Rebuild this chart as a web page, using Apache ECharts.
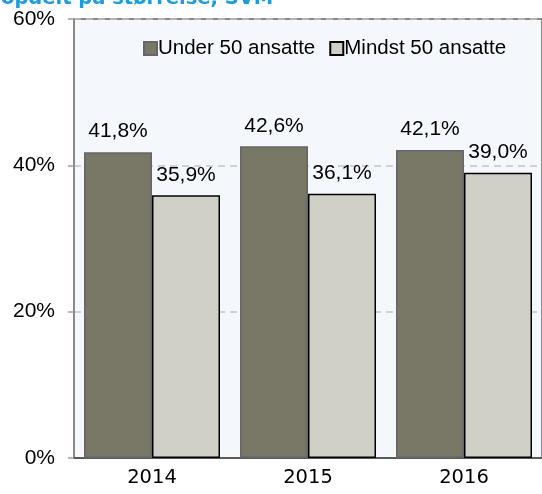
<!DOCTYPE html>
<html>
<head>
<meta charset="utf-8">
<script src="https://cdn.jsdelivr.net/npm/echarts@6/dist/echarts.min.js"></script>
<style>
	html,body{margin:0;padding:0;background:#fff;}
	#main{width:542px;height:494px;}
</style>
</head>
<body>
<div id="main"></div>
<script type="text/javascript">
	// data
	var years = ["2014","2015","2016"];
	var under50 = [41.8,42.6,42.1];
	var mindst50 = [35.9,36.1,39.0];
	var seriesNames = ["Under 50 ansatte","Mindst 50 ansatte"];

	function fmt(v){
		return v.toFixed(1).replace(".",",")+"%";
	}

	var myChart = echarts.init(document.getElementById("main"));

	var barLabel = {
		show:true,
		position:'top',
		distance:10,
		fontFamily:'Liberation Sans',
		fontSize:21,
		color:'#000',
		formatter:function(p){return fmt(p.value);}
	};

	var option = {
		animation:false,
		graphic:[
			{
				type:'text',
				x:1,
				y:-11,
				style:{
					text:"opdelt på størrelse, SVM",
					fill:"#1a9be2",
					font:"bold 19.5px 'DejaVu Sans'"
				}
			}
		],
		legend:{
			top:33,
			left:138,
			itemWidth:13,
			itemHeight:13,
			itemGap:14,
			icon:'rect',
			textStyle:{fontFamily:'Liberation Sans',fontSize:20.5,color:'#000',padding:[0,0,0,-4]},
			data:seriesNames
		},
		grid:{
			left:74,
			right:-2,
			top:19,
			bottom:36,
			show:true,
			backgroundColor:'#f4f8fc',
			borderColor:'#8a8a8a',
			borderWidth:2
		},
		xAxis:[
			{
				type:'category',
				data:years,
				axisLine:{lineStyle:{color:'#5a5a5a',width:2}},
				axisTick:{length:6,lineStyle:{color:'#7a7a7a',width:1.5}},
				axisLabel:{fontFamily:'DejaVu Sans',fontSize:19.5,color:'#000',margin:10}
			},
			{
				// small ticks under the middle of each year
				type:'category',
				data:years,
				position:'bottom',
				axisLine:{show:false},
				axisTick:{alignWithLabel:true,length:5,lineStyle:{color:'#7a7a7a',width:1.5}},
				axisLabel:{show:false}
			}
		],
		yAxis:{
			type:'value',
			min:0,
			max:60,
			interval:20,
			axisLine:{show:true,lineStyle:{color:'#8a8a8a',width:2}},
			axisTick:{show:true,length:6,lineStyle:{color:'#a0a0a0',width:1.5}},
			axisLabel:{fontFamily:'Liberation Sans',fontSize:21,color:'#000',margin:19,formatter:'{value}%'},
			splitLine:{lineStyle:{color:'#c4c4c4',type:[7,5],width:1.5}}
		},
		series:[
			{
				name:seriesNames[0],
				type:'bar',
				data:under50,
				barWidth:68,
				barGap:'0%',
				itemStyle:{color:'#797766',borderColor:'#666',borderWidth:1.5},
				label:barLabel
			},
			{
				name:seriesNames[1],
				type:'bar',
				data:mindst50,
				barWidth:68,
				itemStyle:{color:'#d0d0c7',borderColor:'#000',borderWidth:1.5},
				label:barLabel
			}
		]
	};

	myChart.setOption(option);
</script>
</body>
</html>
